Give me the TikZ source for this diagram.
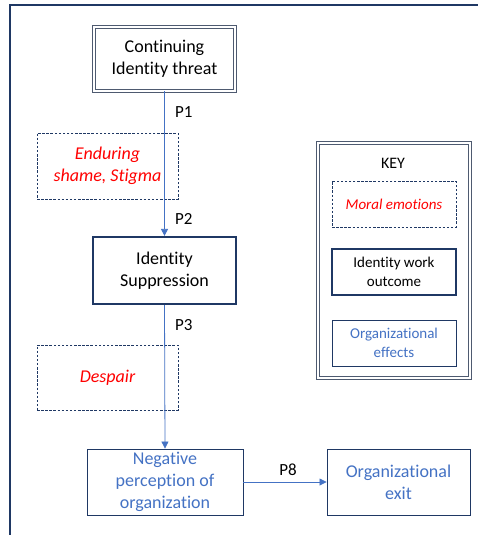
\documentclass[tikz,border=0pt]{standalone}
\usepackage{fontspec}
\setmainfont[Ligatures=NoCommon]{Carlito}
\usetikzlibrary{arrows.meta}
\definecolor{navy}{HTML}{1F3864}
\definecolor{flowblue}{HTML}{4472C4}
\definecolor{framegray}{HTML}{4E5A70}
\definecolor{emored}{HTML}{FF0000}
\tikzset{
  box/.style={draw=navy, line width=0.9pt, align=center, inner sep=2pt},
  thickbox/.style={draw=navy, line width=2.2pt, align=center, inner sep=2pt},
  dashbox/.style={draw=navy, dashed, dash pattern=on 2.5pt off 1.6pt, line width=0.8pt, align=center, inner sep=2pt},
  dblbox/.style={draw=framegray, double=white, double distance=1.4pt, line width=0.9pt, align=center, inner sep=2pt},
  emo/.style={text=emored, font=\fontsize{18}{22}\selectfont\itshape},
  main/.style={font=\fontsize{18}{22}\selectfont},
  org/.style={text=flowblue, font=\fontsize{18}{22}\selectfont},
  keytxt/.style={font=\fontsize{15}{19}\selectfont},
  plabel/.style={font=\fontsize{17}{19}\selectfont, text=black, inner sep=1pt},
  flow/.style={draw=flowblue, line width=0.8pt, -{Triangle[length=7pt,width=7pt]}},
}
\begin{document}
\begin{tikzpicture}[x=1pt, y=-1pt]
\useasboundingbox (0,0) rectangle (478,535);
\fill[white] (0,0) rectangle (478,535);
% outer frame (top and left edges only)
\draw[navy, line width=2.6pt] (10,535) -- (10,5) -- (478,5);

% chain of boxes
\node[dblbox, main, minimum width=141pt, minimum height=64pt] (threat) at (164.5,59) {Continuing\\Identity threat};
\node[dashbox, emo, minimum width=141pt, minimum height=66pt] (shame) at (107.5,166) {Enduring\\shame, Stigma};
\node[thickbox, main, minimum width=143pt, minimum height=67pt] (supp) at (164.5,270.5) {Identity\\Suppression};
\node[dashbox, emo, minimum width=141pt, minimum height=65pt] (despair) at (107.5,377.5) {Despair};
\node[box, org, minimum width=156pt, minimum height=66pt] (neg) at (165,482) {Negative\\perception of\\organization};
\node[box, org, minimum width=143pt, minimum height=66pt] (exit) at (398.5,482) {Organizational\\exit};

% connectors
\draw[flow] (threat.south) -- (supp.north);
\draw[flow] (supp.south) -- (neg.north);
\draw[flow] (neg.east) -- (exit.west);

% path labels
\node[plabel, anchor=west] (p1) at (174,112.5) {P1};
\node[plabel, anchor=west] (p2) at (174,218.5) {P2};
\node[plabel, anchor=west] (p3) at (174,325.5) {P3};
\node[plabel] (p8) at (288,470) {P8};

% key
\node[dblbox, minimum width=152pt, minimum height=235pt] (key) at (394,260.5) {};
\node[font=\fontsize{16}{18}\selectfont] (keytitle) at (393,163) {KEY};
\node[dashbox, text=emored, font=\fontsize{15}{19}\selectfont\itshape, minimum width=124pt, minimum height=46pt] (kmoral) at (394,204) {Moral emotions};
\node[thickbox, keytxt, line width=1.8pt, minimum width=124pt, minimum height=46pt] (kwork) at (394,272) {Identity work\\outcome};
\node[box, keytxt, text=flowblue, minimum width=124pt, minimum height=46pt] (korg) at (394,343) {Organizational\\effects};
\end{tikzpicture}
\end{document}
